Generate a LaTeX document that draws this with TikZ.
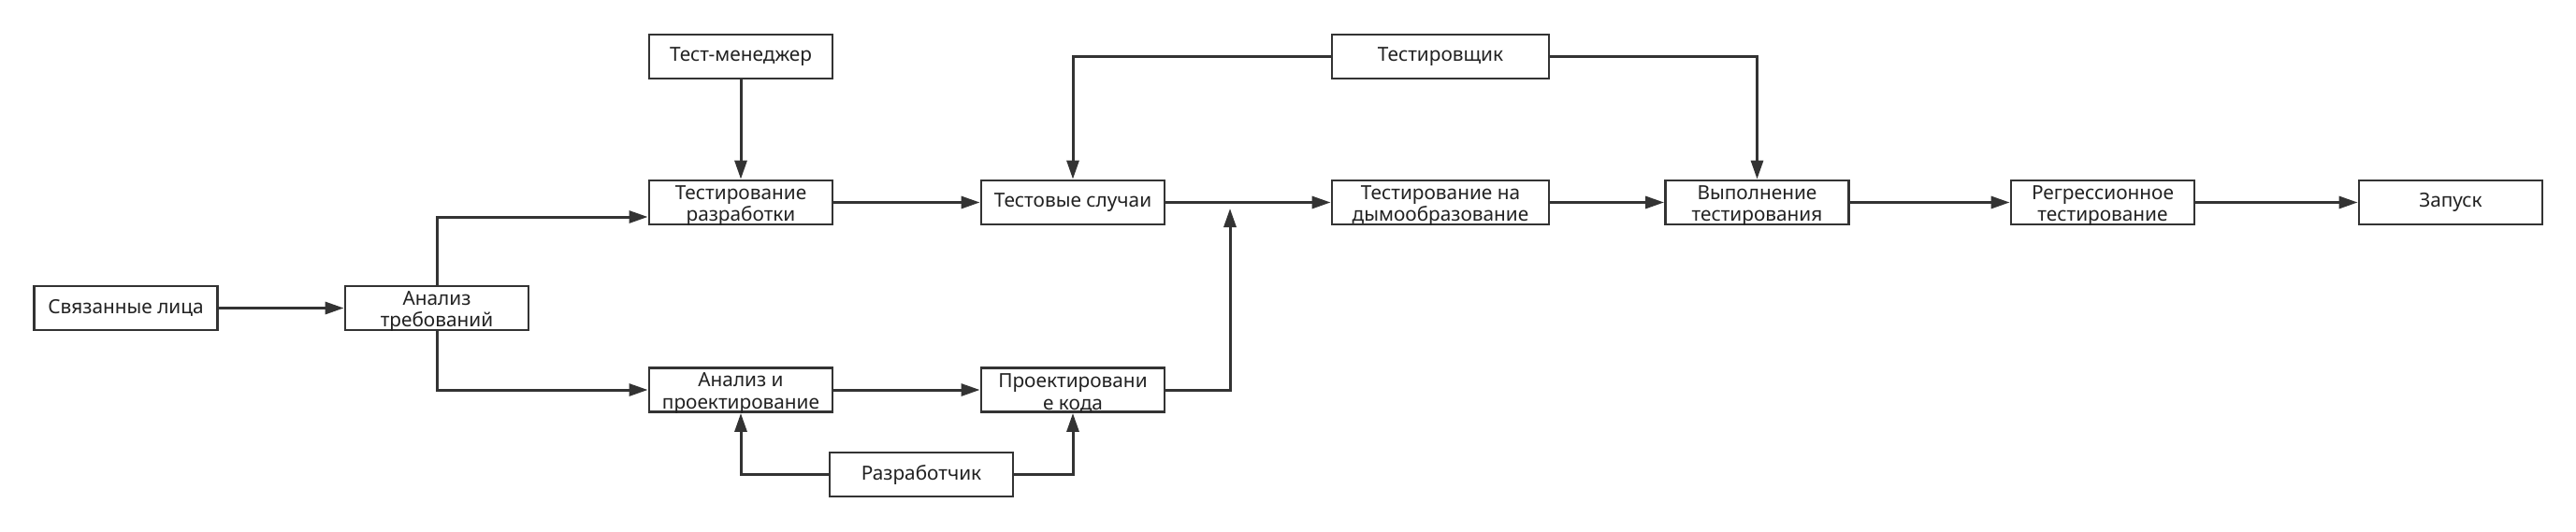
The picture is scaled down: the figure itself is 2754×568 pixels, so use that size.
\documentclass[tikz,border=0pt]{standalone}
\usepackage{fontspec}
\setmainfont{Noto Sans}
\usetikzlibrary{arrows.meta}
\definecolor{ink}{HTML}{333333}
\definecolor{txt}{HTML}{222222}
\begin{document}
\begin{tikzpicture}[x=0.5pt,y=-0.5pt,
  box/.style={draw=ink,line width=1.4pt,fill=white,text=txt,align=center,
    minimum width=98pt,minimum height=23.5pt,inner sep=0pt,
    font=\fontsize{10.4pt}{11.6pt}\selectfont},
  wbox/.style={box,minimum width=116pt},
  lbl/.style={text=txt,align=center,inner sep=0pt,yshift=-1.75pt,
    font=\fontsize{10.4pt}{11.6pt}\selectfont},
  conn/.style={draw=ink,line width=1.5pt,-{Triangle[length=10pt,width=6.5pt]}}]
\useasboundingbox (0,0) rectangle (2754,568);
\node[box] (sv) at (134.5,329.5) {Связанные лица};
\node[box,label={[lbl]center:{Анализ\\требований}}] (ar) at (467,329.5) {};
\node[box] (tm) at (792,60.5) {Тест-менеджер};
\node[box,label={[lbl]center:{Тестирование\\разработки}}] (tr) at (792,216.5) {};
\node[box,label={[lbl]center:{Анализ и\\проектирование}}] (ap) at (792,417) {};
\node[box,label={[lbl]center:{Проектировани\\е кода}}] (pk) at (1147,417) {};
\node[box] (dev) at (985,507.5) {Разработчик};
\node[box] (tc) at (1147,216.5) {Тестовые случаи};
\node[wbox] (tst) at (1540,60.5) {Тестировщик};
\node[wbox,label={[lbl]center:{Тестирование на\\дымообразование}}] (sm) at (1540,216.5) {};
\node[box,label={[lbl]center:{Выполнение\\тестирования}}] (exe) at (1878.5,216.5) {};
\node[box,label={[lbl]center:{Регрессионное\\тестирование}}] (reg) at (2248,216.5) {};
\node[box] (zap) at (2620,216.5) {Запуск};
\coordinate (j) at (1315,223);
\draw[conn] (sv) -- (ar);
\draw[conn] (ar.north) |- ([yshift=-7.75pt]tr.west);
\draw[conn] (ar.south) |- (ap.west);
\draw[conn] (tm) -- (tr);
\draw[conn] (tr) -- (tc);
\draw[conn] (ap) -- (pk);
\draw[conn] (dev.west) -| (ap.south);
\draw[conn] (dev.east) -| (pk.south);
\draw[conn] (pk.east) -| (j);
\draw[conn] (tc) -- (sm);
\draw[conn] (tst.west) -| (tc.north);
\draw[conn] (tst.east) -| (exe.north);
\draw[conn] (sm) -- (exe);
\draw[conn] (exe) -- (reg);
\draw[conn] (reg) -- (zap);
\end{tikzpicture}
\end{document}
